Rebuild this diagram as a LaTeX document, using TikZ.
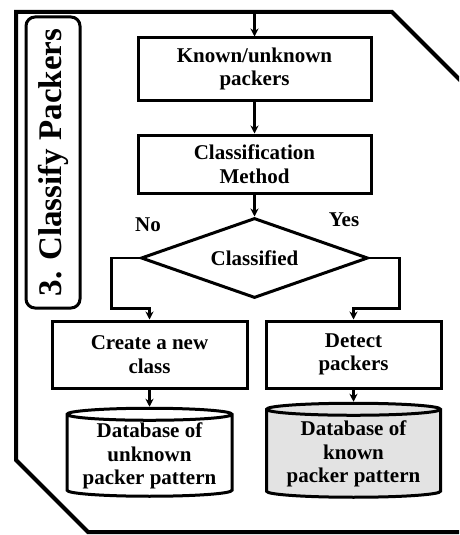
\documentclass[tikz,border=0pt]{standalone}
\usepackage{fontspec}
\setmainfont{Liberation Serif}
\usetikzlibrary{shapes.geometric, arrows.meta}
\tikzset{
    ->, % every connector ends in a head
    >={Stealth[length=8pt, width=8pt]}, % small solid heads
    node distance=95pt, % distance between the box centres
    every node/.style={font=\bfseries\fontsize{21}{23.5}\selectfont, align=center},
}

\begin{document}
\begin{tikzpicture}[
                                x=1pt, y=1pt,
                                stepBox/.style={draw, line width=3pt, inner sep=2pt},
                                dbStore/.style={cylinder, shape border rotate=90, draw, line width=3pt, aspect=0.09, inner sep=0pt},
                                link/.style={line width=2.5pt},
                            ]
                            \path[use as bounding box, clip] (0,0) rectangle (459,-535);
                            % outer frame, its right side lies outside the picture
                            \draw[-, line width=4pt, line join=miter] (520,-532) -- (88,-532) -- (16,-460) -- (16,-12) -- (392,-12) -- (520,-140);
                            \node[draw, rounded corners=9pt, line width=3pt, rotate=90, minimum width=291pt, minimum height=54pt, font=\bfseries\fontsize{33}{36}\selectfont] (phase) at (53,-162.5) {3. Classify Packers};
                            \node[stepBox, minimum width=233pt, minimum height=62pt] (known) at (254.5,-69) {Known/unknown\\packers};
                            \node[stepBox, below of=known, minimum width=233pt, minimum height=58pt] (method) {Classification\\Method};
                            \node[diamond, draw, line width=3pt, below of=method, node distance=94pt, aspect=2.84, inner sep=0pt, minimum width=227pt, minimum height=80pt] (clsd) {Classified};
                            \node[stepBox, below of=clsd, node distance=96.5pt, xshift=-105pt, minimum width=195pt, minimum height=67pt] (newclass) {Create a new\\class};
                            \node[stepBox, below of=clsd, node distance=96.5pt, xshift=99pt, minimum width=175pt, minimum height=67pt] (detect) {Detect\\packers};
                            \node[dbStore, below of=newclass, node distance=101.5pt, minimum width=165pt, minimum height=88pt] (unknownDb) {Database of\\unknown\\packer pattern};
                            \node[dbStore, below of=detect, node distance=99.5pt, minimum width=174pt, minimum height=94pt, fill=gray!22] (knownDb) {Database of\\known\\packer pattern};
                            \node (no) at (148,-225) {No};
                            \node (yes) at (344,-220) {Yes};
                            \coordinate (entry) at (254.5,-12);
                            \draw[link]
                            (entry) -- (known);
                            \draw[link] (known) -- (method);
                            \draw[link] (method) -- (clsd);
                            \draw[link] (clsd.west) -- ++(-28,0) |- ([yshift=11pt]newclass.north) -- (newclass.north);
                            \draw[link] (clsd.east) -- ++(30,0) |- ([yshift=11pt]detect.north) -- (detect.north);
                            \draw[link] (newclass) -- (unknownDb);
                            \draw[link] (detect) -- (knownDb);
                        \end{tikzpicture}
\end{document}
